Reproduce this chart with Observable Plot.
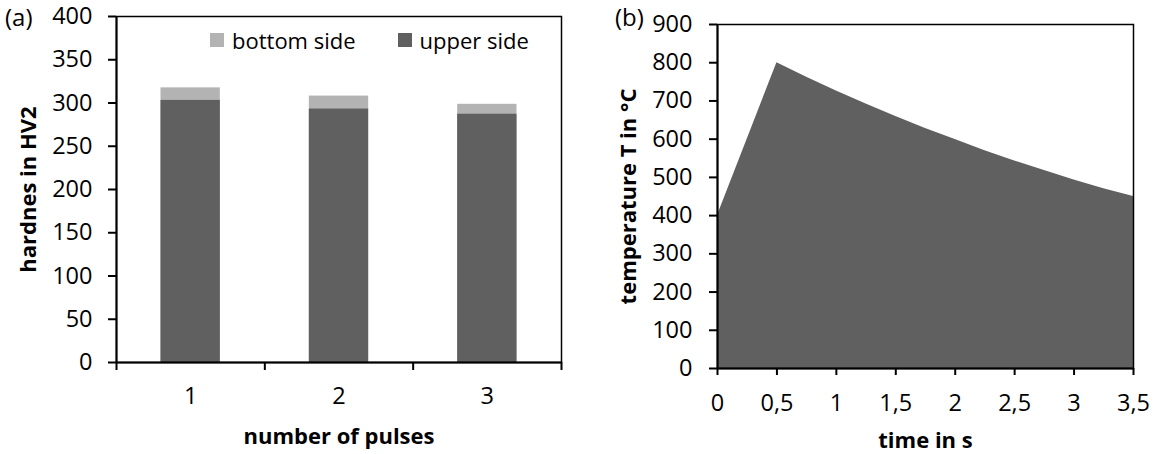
<!DOCTYPE html>
<html>
<head>
<meta charset="utf-8">
<script src="https://cdn.jsdelivr.net/npm/d3@7"></script>
<script src="https://cdn.jsdelivr.net/npm/@observablehq/plot@0.6"></script>
<style>
  body { margin: 0; background: #fff; font-family: "Open Sans", sans-serif; }
  #wrap { position: relative; width: 1159px; height: 454px; overflow: hidden; background: #fff; }
  .panel { position: absolute; top: 0; }
  .tag { position: absolute; font-size: 24px; line-height: 24px; color: #000; font-family: "Open Sans", sans-serif; }
  g[aria-label="x-axis label"] text, g[aria-label="y-axis label"] text { font-weight: bold; font-size: 22px; }
  #legend { position: absolute; left: 210px; top: 25px; }
  .lg-swatches { margin: 0 !important; min-height: 0 !important; }
  .lg-swatch { margin-right: 42px !important; }
  .lg-swatch > svg { margin-right: 8px !important; }
</style>
</head>
<body>
<div id="wrap">
  <div class="panel" id="left"></div>
  <div class="panel" id="right" style="left:580px"></div>
  <div id="legend"></div>
  <div class="tag" style="left:5px;top:5px">(a)</div>
  <div class="tag" style="left:615px;top:5px">(b)</div>
</div>
<script>
// ---- data: panel (a) ----
const pulses = [1, 2, 3];
const bottomSide = [317.5, 308, 298.5];
const upperSide = [303, 293, 287];
const hardTicks = [0, 50, 100, 150, 200, 250, 300, 350, 400];
const seriesNames = ["bottom side", "upper side"];
const seriesColors = ["#b3b3b3", "#606060"];

// ---- data: panel (b) ----
const time = [0, 0.5, 0.75, 1, 1.25, 1.5, 1.75, 2, 2.25, 2.5, 2.75, 3, 3.25, 3.5];
const temperature = [400, 800, 762, 726, 692, 659, 628, 599, 570, 543, 518, 493, 470, 450];
const tempTicks = [0, 100, 200, 300, 400, 500, 600, 700, 800, 900];
const timeTicks = [0, 0.5, 1, 1.5, 2, 2.5, 3, 3.5];

const hard = pulses.map((p, i) => ({p, bottom: bottomSide[i], upper: upperSide[i]}));
const temp = time.map((t, i) => ({t, T: temperature[i]}));
const halfBar = 0.2;
const comma = d => String(d).replace(".", ",");
const fs = 23.5;
const baseStyle = {fontFamily: "Open Sans", fontSize: "23px", color: "#000", background: "transparent", overflow: "visible"};

const left = Plot.plot({
  width: 580, height: 454,
  marginLeft: 116, marginRight: 19, marginTop: 16, marginBottom: 92,
  style: baseStyle,
  x: {type: "linear", domain: [0.5, 3.5]},
  y: {domain: [0, 400]},
  color: {domain: seriesNames, range: seriesColors},
  marks: [
    Plot.rect(hard, {x1: d => d.p - halfBar, x2: d => d.p + halfBar, y1: 0, y2: "bottom", fill: seriesColors[0]}),
    Plot.rect(hard, {x1: d => d.p - halfBar, x2: d => d.p + halfBar, y1: 0, y2: "upper", fill: seriesColors[1]}),
    Plot.frame({stroke: "#000", strokeWidth: 1.5}),
    Plot.axisY({ticks: hardTicks, tickSize: 8, tickPadding: 16, strokeWidth: 2, fontSize: fs,
      label: "hardnes in HV2", labelAnchor: "center", labelArrow: "none", labelOffset: 96}),
    Plot.axisX({ticks: [0.5, 1.5, 2.5, 3.5], tickSize: 8, tickFormat: () => "", strokeWidth: 2, label: null}),
    Plot.axisX({ticks: pulses, tickSize: 0, tickPadding: 25, tickFormat: d => String(d), fontSize: fs,
      label: "number of pulses", labelAnchor: "center", labelArrow: "none", labelOffset: 81}),
    Plot.ruleX([0.5], {stroke: "#000", strokeWidth: 2}),
    Plot.ruleY([0], {stroke: "#000", strokeWidth: 2})
  ]
});
document.getElementById("left").append(left);

const lg = Plot.legend({
  color: {domain: seriesNames, range: seriesColors},
  legend: "swatches", swatchSize: 14, className: "lg",
  style: {fontFamily: "Open Sans", fontSize: "22px", color: "#000"}
});
document.getElementById("legend").append(lg);

const right = Plot.plot({
  width: 579, height: 454,
  marginLeft: 137, marginRight: 26, marginTop: 24, marginBottom: 86,
  style: baseStyle,
  x: {domain: [0, 3.5]},
  y: {domain: [0, 900]},
  marks: [
    Plot.areaY(temp, {x: "t", y: "T", fill: "#606060"}),
    Plot.frame({stroke: "#000", strokeWidth: 1.5}),
    Plot.axisY({ticks: tempTicks, tickSize: 8, tickPadding: 17, strokeWidth: 2, fontSize: fs,
      label: "temperature T in °C", labelAnchor: "center", labelArrow: "none", labelOffset: 97}),
    Plot.axisX({ticks: timeTicks, tickSize: 7, tickPadding: 19, tickFormat: comma, strokeWidth: 2, fontSize: fs,
      label: "time in s", labelAnchor: "center", labelArrow: "none", labelOffset: 79}),
    Plot.ruleX([0], {stroke: "#000", strokeWidth: 2}),
    Plot.ruleY([0], {stroke: "#000", strokeWidth: 2})
  ]
});
document.getElementById("right").append(right);
</script>
</body>
</html>
